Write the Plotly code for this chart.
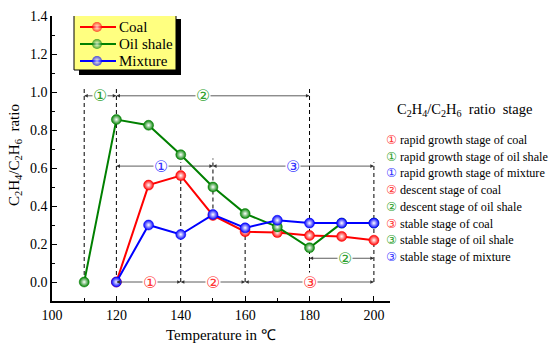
import plotly.graph_objects as go

temps_coal = [120, 130, 140, 150, 160, 170, 180, 190, 200]
coal = [0.0, 0.51, 0.56, 0.35, 0.265, 0.26, 0.245, 0.24, 0.22]
temps_oil = [110, 120, 130, 140, 150, 160, 170, 180, 190, 200]
oil_shale = [0.0, 0.855, 0.825, 0.67, 0.50, 0.36, 0.29, 0.18, 0.31, 0.31]
temps_mix = [120, 130, 140, 150, 160, 170, 180, 190, 200]
mixture = [0.0, 0.30, 0.25, 0.355, 0.285, 0.325, 0.31, 0.31, 0.31]
series_names = ["Coal", "Oil shale", "Mixture"]
series_colors = ["#ff0000", "#008000", "#0000ff"]

# stage boundaries (x, y_bottom, y_top)
vlines = [(110, 0, 1.02), (120, 0, 1.02), (140, 0, 0.63), (150, 0.35, 0.65),
          (160, 0, 0.29), (180, 0, 1.02), (200, 0, 0.63)]
# stage spans (x0, x1, y, label, label_x, color)
spans = [
    (110, 120, 0.98, "①", 115, "#2ca02c"),
    (120, 180, 0.98, "②", 147, "#2ca02c"),
    (120, 150, 0.61, "①", 134, "#3333ff"),
    (150, 200, 0.61, "③", 175, "#3333ff"),
    (120, 140, 0.0, "①", 130.5, "#ff3333"),
    (140, 160, 0.0, "②", 150, "#ff3333"),
    (160, 200, 0.0, "③", 180, "#ff3333"),
    (180, 200, 0.125, "②", 191, "#2ca02c"),
]
stage_labels = [
    ("①", "#ff3333", "rapid growth stage of coal"),
    ("①", "#2ca02c", "rapid growth stage of oil shale"),
    ("①", "#3333ff", "rapid growth stage of mixture"),
    ("②", "#ff3333", "descent stage of coal"),
    ("②", "#2ca02c", "descent stage of oil shale"),
    ("③", "#ff3333", "stable stage of coal"),
    ("③", "#2ca02c", "stable stage of oil shale"),
    ("③", "#3333ff", "stable stage of mixture"),
]

FONT = "Liberation Serif"
SYMF = "DejaVu Sans"

# plot area in pixels
L, B, W, H = 52, 301, 338, 285
def px(xp):
    return (xp - L) / W
def py(yp):
    return (B - yp) / H

fig = go.Figure()
for name, xs, ys, col in zip(series_names, [temps_coal, temps_oil, temps_mix],
                             [coal, oil_shale, mixture], series_colors):
    fig.add_trace(go.Scatter(
        x=xs, y=ys, name=name, mode="lines+markers", showlegend=False,
        line=dict(color=col, width=2),
        marker=dict(size=10, color=col, gradient=dict(type="radial", color="white"),
                    line=dict(width=0.5, color=col)),
    ))

# manual legend (pixel-space overlay axes)
leg_box = (74, 14, 176, 70)
leg_rows = [27, 44, 61]
shapes = []
shapes.append(dict(type="rect", xref="x2", yref="y2", layer="below",
                   x0=leg_box[0] + 5, x1=leg_box[2] + 5, y0=leg_box[1] + 5, y1=leg_box[3] + 5,
                   fillcolor="black", line=dict(width=0)))
shapes.append(dict(type="rect", xref="x2", yref="y2", layer="below",
                   x0=leg_box[0], x1=leg_box[2], y0=leg_box[1], y1=leg_box[3],
                   fillcolor="#ffff80", line=dict(width=1, color="black")))
annotations = []
for name, col, ry in zip(series_names, series_colors, leg_rows):
    fig.add_trace(go.Scatter(
        x=[80, 97, 116], y=[ry, ry, ry], xaxis="x2", yaxis="y2", mode="lines+markers",
        showlegend=False, hoverinfo="skip", cliponaxis=False,
        line=dict(color=col, width=2),
        marker=dict(size=[0, 10, 0], color=col, gradient=dict(type="radial", color="white"),
                    line=dict(width=0)),
    ))
    annotations.append(dict(xref="x2", yref="y2", x=118, y=ry, text=name, showarrow=False,
                            xanchor="left", yanchor="middle", borderpad=0,
                            font=dict(size=15, family=FONT, color="black")))

for x, y0, y1 in vlines:
    shapes.append(dict(type="line", xref="x", yref="y", x0=x, x1=x, y0=y0, y1=y1,
                       line=dict(color="black", width=1, dash="4px,3px"), layer="below"))

for x0, x1, y, lab, lx, col in spans:
    for xe in (x0, x1):
        annotations.append(dict(x=xe, y=y, ax=lx, ay=y, xref="x", yref="y",
                                axref="x", ayref="y", text="", showarrow=True,
                                arrowhead=2, arrowsize=0.9, arrowwidth=0.8,
                                arrowcolor="#333333"))
    annotations.append(dict(x=lx, y=y, xref="x", yref="y", text=lab, showarrow=False,
                            bgcolor="white", borderpad=0,
                            font=dict(size=16, color=col, family=SYMF)))

# axis titles
annotations.append(dict(xref="paper", yref="paper", x=px(221), y=py(335),
                        text="Temperature in ℃", showarrow=False,
                        xanchor="center", yanchor="middle",
                        font=dict(size=15, family=FONT, color="black")))
annotations.append(dict(xref="paper", yref="paper", x=px(15), y=py(155), textangle=-90,
                        text="C<sub>2</sub>H<sub>4</sub>/C<sub>2</sub>H<sub>6</sub>  ratio",
                        showarrow=False, xanchor="center", yanchor="middle",
                        font=dict(size=15, family=FONT, color="black")))

# right-hand stage key
annotations.append(dict(xref="paper", yref="paper", x=px(465), y=py(110),
                        text="C<sub>2</sub>H<sub>4</sub>/C<sub>2</sub>H<sub>6</sub>  ratio  stage",
                        showarrow=False, xanchor="center", yanchor="middle",
                        font=dict(size=14.5, family=FONT, color="black")))
for i, (sym, col, txt) in enumerate(stage_labels):
    yy = 140 + i * 16.7
    annotations.append(dict(xref="paper", yref="paper", x=px(385), y=py(yy),
                            text=f"<span style='color:{col};font-family:{SYMF}'>{sym}</span> {txt}",
                            showarrow=False, xanchor="left", yanchor="middle", borderpad=0,
                            font=dict(size=12.2, family=FONT, color="black")))

fig.update_layout(
    width=550, height=346,
    margin=dict(l=L, r=550 - L - W, t=B - H, b=346 - B, autoexpand=False),
    paper_bgcolor="white", plot_bgcolor="white",
    font=dict(family=FONT, size=13, color="black"),
    showlegend=False,
    shapes=shapes, annotations=annotations,
    xaxis=dict(range=[100, 205], tickvals=[100, 120, 140, 160, 180, 200],
               ticks="inside", ticklen=5, tickwidth=1, tickcolor="black",
               minor=dict(dtick=10, tick0=100, ticks="inside", ticklen=3, tickcolor="black"),
               showline=True, linecolor="black", linewidth=1.5, showgrid=False,
               zeroline=False, mirror=False, automargin=False,
               tickfont=dict(size=14, family=FONT, color="black")),
    yaxis=dict(range=[-0.1, 1.4], tickvals=[0, 0.2, 0.4, 0.6, 0.8, 1.0, 1.2, 1.4],
               tickformat=".1f",
               ticks="inside", ticklen=5, tickwidth=1, tickcolor="black",
               minor=dict(dtick=0.1, tick0=0, ticks="inside", ticklen=3, tickcolor="black"),
               showline=True, linecolor="black", linewidth=1.5, showgrid=False,
               zeroline=False, automargin=False,
               tickfont=dict(size=14, family=FONT, color="black")),
    xaxis2=dict(overlaying="x", domain=[0, 1], range=[L, L + W], visible=False,
                anchor="y2", fixedrange=True, automargin=False),
    yaxis2=dict(overlaying="y", domain=[0, 1], range=[B, B - H], visible=False,
                anchor="x2", fixedrange=True, automargin=False),
)

fig.write_html("out.html", config={"displayModeBar": False},
               post_script="document.body.style.margin='0';document.body.style.padding='0';")
